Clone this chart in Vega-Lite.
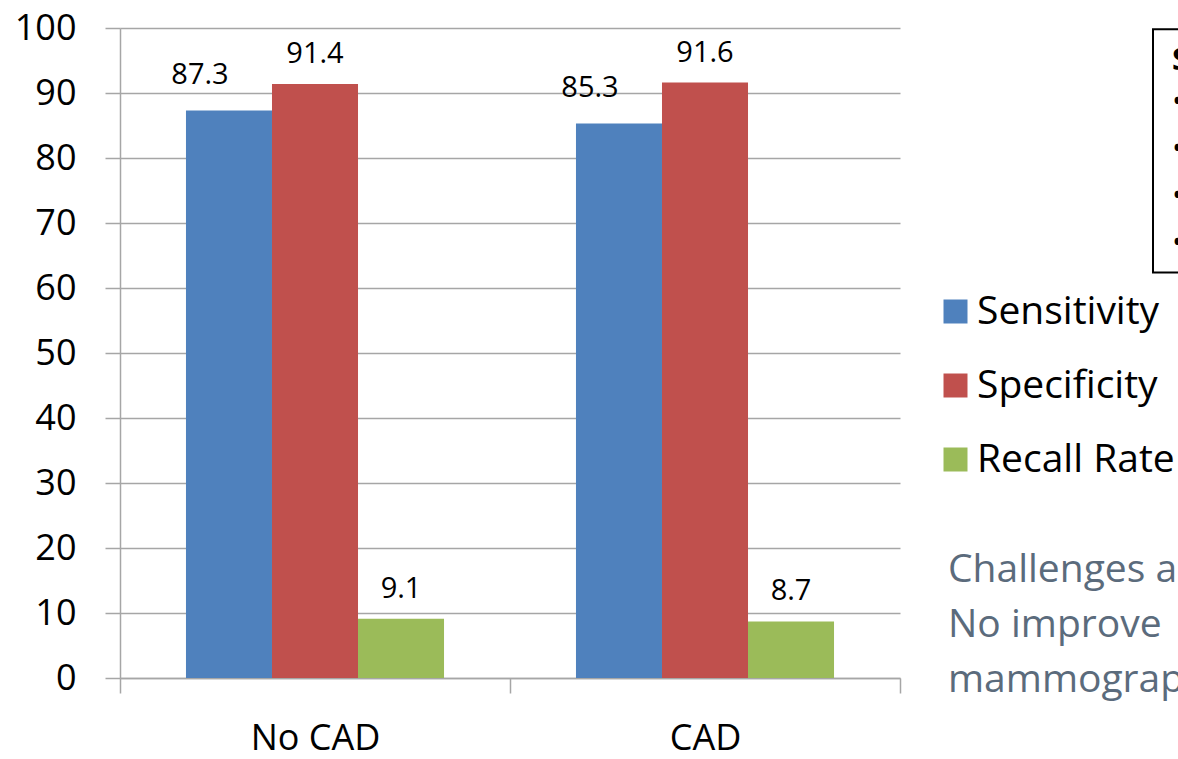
{
  "$schema": "https://vega.github.io/schema/vega-lite/v6.json",
  "width": 780,
  "height": 650,
  "autosize": {"type": "none"},
  "padding": {"left": 120, "top": 28, "right": 278, "bottom": 81},
  "background": "white",
  "config": {"font": "Open Sans", "view": {"stroke": null}},
  "data": {
    "values": [
      {"group": "No CAD", "measure": "Sensitivity", "value": 87.3},
      {"group": "No CAD", "measure": "Specificity", "value": 91.4},
      {"group": "No CAD", "measure": "Recall Rate", "value": 9.1},
      {"group": "CAD", "measure": "Sensitivity", "value": 85.3},
      {"group": "CAD", "measure": "Specificity", "value": 91.6},
      {"group": "CAD", "measure": "Recall Rate", "value": 8.7}
    ]
  },
  "layer": [
    {
      "mark": {"type": "bar"},
      "encoding": {
        "x": {
          "field": "group", "type": "nominal", "sort": ["No CAD", "CAD"],
          "scale": {"domain": ["No CAD", "CAD"], "paddingInner": 0, "paddingOuter": 0},
          "axis": {
            "title": null, "labelAngle": 0, "labelFontSize": 36, "labelColor": "#000000",
            "domainColor": "#a6a6a6", "domainWidth": 1.5, "tickColor": "#a6a6a6", "tickWidth": 1.5,
            "tickSize": 15, "tickBand": "extent", "labelPadding": 28, "grid": false
          }
        },
        "xOffset": {"field": "measure", "sort": ["Sensitivity", "Specificity", "Recall Rate"], "scale": {"paddingInner": 0, "paddingOuter": 0.767}},
        "y": {
          "field": "value", "type": "quantitative",
          "scale": {"domain": [0, 100], "nice": false},
          "axis": {
            "title": null, "values": [0, 10, 20, 30, 40, 50, 60, 70, 80, 90, 100],
            "labelFontSize": 36, "labelColor": "#000000", "labelPadding": 29,
            "domainColor": "#a6a6a6", "domainWidth": 1.5, "tickColor": "#a6a6a6", "tickWidth": 1.5, "tickSize": 15,
            "grid": true, "gridColor": "#a6a6a6", "gridWidth": 1.5
          }
        },
        "color": {
          "field": "measure", "type": "nominal",
          "sort": ["Sensitivity", "Specificity", "Recall Rate"],
          "scale": {"domain": ["Sensitivity", "Specificity", "Recall Rate"], "range": ["#4F81BD", "#C0504D", "#9BBB59"]},
          "legend": {
            "title": null, "orient": "none", "legendX": 816, "legendY": 264,
            "symbolType": "square", "symbolSize": 576, "symbolStrokeWidth": 0,
            "labelFontSize": 39, "labelColor": "#000000", "labelOffset": 2, "rowPadding": 34,
            "labelLimit": 400
          }
        }
      }
    },
    {
      "transform": [{"filter": "datum.measure !== 'Sensitivity'"}],
      "mark": {"type": "text", "fontSize": 29, "dy": -21, "baseline": "alphabetic", "color": "#000000"},
      "encoding": {
        "x": {"field": "group", "type": "nominal", "sort": ["No CAD", "CAD"]},
        "xOffset": {"field": "measure", "sort": ["Sensitivity", "Specificity", "Recall Rate"]},
        "y": {"field": "value", "type": "quantitative"},
        "text": {"field": "value", "type": "quantitative", "format": ".1f"}
      }
    },
    {
      "transform": [{"filter": "datum.measure === 'Sensitivity'"}],
      "mark": {"type": "text", "fontSize": 29, "dy": -27, "dx": -29, "baseline": "alphabetic", "color": "#000000"},
      "encoding": {
        "x": {"field": "group", "type": "nominal", "sort": ["No CAD", "CAD"]},
        "xOffset": {"field": "measure", "sort": ["Sensitivity", "Specificity", "Recall Rate"]},
        "y": {"field": "value", "type": "quantitative"},
        "text": {"field": "value", "type": "quantitative", "format": ".1f"}
      }
    },
    {
      "data": {"values": [{"note": ["Challenges a", "No improve", "mammograp"]}]},
      "mark": {"type": "text", "fontSize": 39, "align": "left", "baseline": "alphabetic", "lineHeight": 55, "dx": 243, "color": "#5b6b7c"},
      "encoding": {
        "x": {"datum": "CAD"},
        "y": {"datum": 14.8},
        "text": {"field": "note"}
      }
    },
    {
      "data": {"values": [{"a": 1}]},
      "mark": {"type": "rect", "fill": "white", "fillOpacity": 0, "stroke": "#000000", "strokeWidth": 2, "xOffset": 448, "x2Offset": 600},
      "encoding": {
        "x": {"datum": "CAD"},
        "x2": {"datum": "CAD"},
        "y": {"datum": 99.8},
        "y2": {"datum": 62.4}
      }
    },
    {
      "data": {"values": [{"t": "S"}]},
      "mark": {"type": "text", "fontSize": 31, "fontWeight": "bold", "align": "left", "baseline": "alphabetic", "dx": 467, "color": "#000000"},
      "encoding": {
        "x": {"datum": "CAD"},
        "y": {"datum": 93.5},
        "text": {"field": "t"}
      }
    },
    {
      "data": {"values": [{"t": ["•", "•", "•", "•"]}]},
      "mark": {"type": "text", "fontSize": 31, "align": "left", "baseline": "alphabetic", "lineHeight": 47, "dx": 467, "color": "#000000"},
      "encoding": {
        "x": {"datum": "CAD"},
        "y": {"datum": 87.1},
        "text": {"field": "t"}
      }
    }
  ]
}
